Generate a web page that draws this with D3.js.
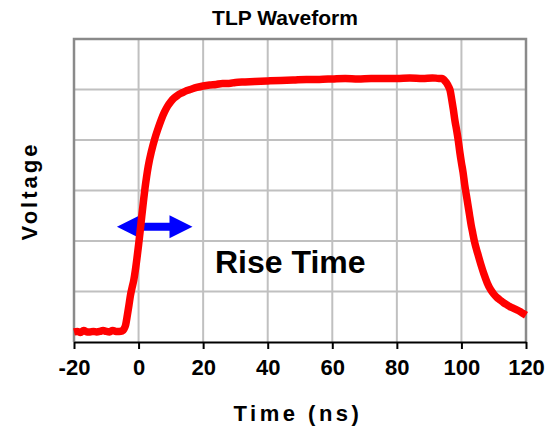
<!DOCTYPE html>
<html>
<head>
<meta charset="utf-8">
<script src="https://cdn.jsdelivr.net/npm/d3@7"></script>
<style>
  html, body { margin: 0; padding: 0; background: #fff; }
  svg { display: block; font-family: "Liberation Sans", Arial, sans-serif; }
</style>
</head>
<body>
<svg id="chart" width="555" height="428"></svg>
<script>
// ---- data ----
const timeNs = [
  -20, -19, -18, -17, -16, -15, -14, -13, -12, -11, -10, -9, -8, -7, -6, -5,
  -4.5, -4, -3.5, -3, -2.5, -2, -1.5, -1, -0.5, 0, 0.5, 1, 1.5, 2, 2.5, 3,
  4, 5, 6, 7, 8, 9, 10, 11, 12, 13, 14, 15, 16, 18, 20, 22, 24, 26, 28, 30,
  33, 36, 40, 44, 48, 52, 56, 60, 64, 68, 72, 76, 80, 84, 88, 91, 93,
  94, 94.5, 95, 95.5, 96, 96.5, 97, 97.5, 98, 98.5, 99, 99.5, 100, 100.5,
  101, 101.5, 102, 102.5, 103, 103.5, 104, 105, 106, 107, 108, 109, 110,
  111, 112, 113, 114, 115, 116, 117, 118, 119, 120
];
const voltage = [
  0.20, 0.21, 0.19, 0.23, 0.20, 0.20, 0.21, 0.20, 0.21, 0.23, 0.21, 0.20, 0.23, 0.21, 0.21, 0.22,
  0.26, 0.34, 0.52, 0.72, 0.93, 1.08, 1.22, 1.42, 1.66, 1.92, 2.20, 2.50, 2.78, 3.05, 3.28, 3.48,
  3.78, 4.02, 4.22, 4.40, 4.55, 4.67, 4.76, 4.83, 4.88, 4.92, 4.95, 4.98, 5.00, 5.04, 5.07, 5.09, 5.10, 5.12, 5.12, 5.14,
  5.15, 5.16, 5.17, 5.18, 5.19, 5.20, 5.20, 5.21, 5.22, 5.21, 5.22, 5.22, 5.22, 5.23, 5.22, 5.23, 5.22,
  5.22, 5.20, 5.16, 5.12, 5.06, 4.98, 4.80, 4.60, 4.38, 4.20, 4.00, 3.76, 3.55, 3.36,
  3.12, 2.92, 2.72, 2.52, 2.32, 2.16, 2.00, 1.76, 1.54, 1.34, 1.17, 1.04, 0.95,
  0.88, 0.83, 0.78, 0.74, 0.70, 0.67, 0.64, 0.61, 0.57, 0.53
];
const xTicks = [-20, 0, 20, 40, 60, 80, 100, 120];
const yGrid = [1, 2, 3, 4, 5];
const titleText = "TLP Waveform";
const xLabel = "Time (ns)";
const yLabel = "Voltage";
const annotationText = "Rise Time";
const arrowSpan = [-6.7, 16.7];   // ns
const arrowLevel = 2.28;          // voltage units

// ---- layout ----
const svg = d3.select("#chart");
const x = d3.scaleLinear().domain([-20, 120]).range([74, 526]);
const y = d3.scaleLinear().domain([0, 6]).range([342, 39]);

// grid
svg.append("g").selectAll("line")
  .data(xTicks.filter(d => d > -20 && d < 120))
  .join("line")
  .attr("x1", d => x(d)).attr("x2", d => x(d))
  .attr("y1", y(6)).attr("y2", y(0))
  .attr("stroke", "#c0c0c0").attr("stroke-width", 2);
svg.append("g").selectAll("line")
  .data(yGrid)
  .join("line")
  .attr("x1", x(-20)).attr("x2", x(120))
  .attr("y1", d => y(d)).attr("y2", d => y(d))
  .attr("stroke", "#c0c0c0").attr("stroke-width", 2);

// frame (top, left, right)
svg.append("path")
  .attr("d", `M${x(-20)},${y(0)}V${y(6)}H${x(120)}V${y(0)}`)
  .attr("fill", "none").attr("stroke", "#8a8a8a").attr("stroke-width", 2.5);

// arrow
const ax1 = x(arrowSpan[0]), ax2 = x(arrowSpan[1]), ay = y(arrowLevel);
const hl = 23, hh = 11.5, sh = 4;
svg.append("path")
  .attr("d", `M${ax1},${ay} L${ax1 + hl},${ay - hh} L${ax1 + hl},${ay - sh} L${ax2 - hl},${ay - sh} L${ax2 - hl},${ay - hh} L${ax2},${ay} L${ax2 - hl},${ay + hh} L${ax2 - hl},${ay + sh} L${ax1 + hl},${ay + sh} L${ax1 + hl},${ay + hh} Z`)
  .attr("fill", "#0000ff");

// waveform
const pts = timeNs.map((t, i) => [t, voltage[i]]);
svg.append("path")
  .datum(pts)
  .attr("d", d3.line().x(d => x(d[0])).y(d => y(d[1])).curve(d3.curveMonotoneX))
  .attr("fill", "none").attr("stroke", "#ff0000").attr("stroke-width", 7.5)
  .attr("stroke-linejoin", "round");

// bottom axis
const xAxis = svg.append("g")
  .attr("transform", `translate(0,${y(0)})`)
  .call(d3.axisBottom(x).tickValues(xTicks).tickFormat(d => String(d))
    .tickSize(7).tickSizeOuter(0).tickPadding(10));
xAxis.select(".domain").attr("stroke", "#000").attr("stroke-width", 2);
xAxis.selectAll(".tick line").attr("stroke", "#000").attr("stroke-width", 2);
xAxis.selectAll(".tick text")
  .attr("font-size", 22).attr("font-weight", "bold").attr("fill", "#000")
  .attr("font-family", "'Liberation Sans', Arial, sans-serif");

// title
svg.append("text")
  .attr("x", 285).attr("y", 25)
  .attr("text-anchor", "middle")
  .attr("font-size", 21).attr("font-weight", "bold")
  .text(titleText);

// axis labels
svg.append("text")
  .attr("x", 298).attr("y", 421)
  .attr("text-anchor", "middle")
  .attr("font-size", 22).attr("font-weight", "bold")
  .attr("letter-spacing", 3.5)
  .text(xLabel);
svg.append("text")
  .attr("transform", `translate(37,191) rotate(-90)`)
  .attr("text-anchor", "middle")
  .attr("font-size", 22).attr("font-weight", "bold")
  .attr("letter-spacing", 3)
  .text(yLabel);

// annotation
svg.append("text")
  .attr("x", 215).attr("y", 273)
  .attr("font-size", 32).attr("font-weight", "bold")
  .text(annotationText);
</script>
</body>
</html>
